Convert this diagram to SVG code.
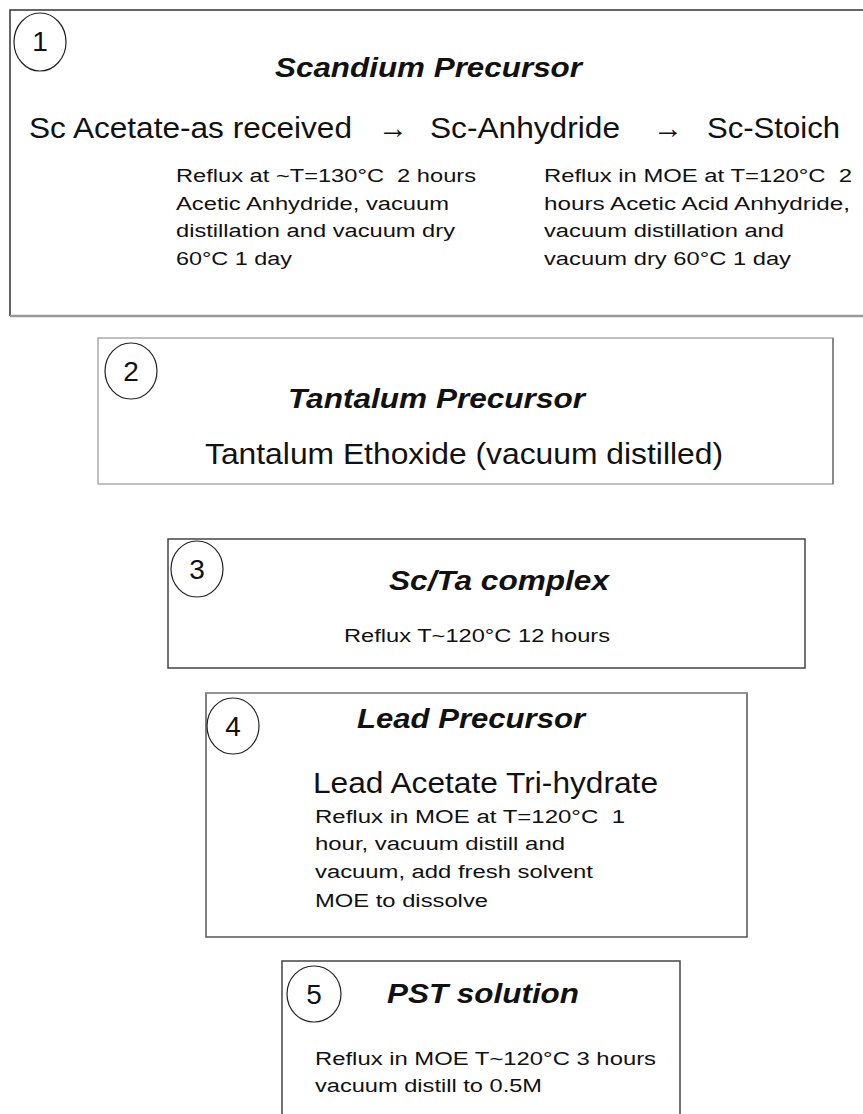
<svg xmlns="http://www.w3.org/2000/svg" width="863" height="1114" viewBox="0 0 863 1114">
<style>
.box{fill:#fff;stroke:#444;stroke-width:1.5}
.num{fill:#fff;stroke:#222;stroke-width:1.2}
.numt{font-family:"Liberation Sans",Arial,sans-serif;font-size:28px;fill:#111;text-anchor:middle}
.title{font-family:"Liberation Sans",Arial,sans-serif;font-size:27px;font-weight:bold;font-style:italic;fill:#111}
.big{font-family:"Liberation Sans",Arial,sans-serif;font-size:30px;fill:#111}
.sm{font-family:"Liberation Sans",Arial,sans-serif;font-size:18px;fill:#111}
</style>
<rect width="863" height="1114" fill="#fff"/>
<g id="node1">
<path d="M875,10 H10 V316" class="box" style="stroke:#333"/>
<path d="M10,316 H875" stroke="#999" stroke-width="2.5" fill="none"/>
<ellipse cx="40" cy="42" rx="26" ry="29" class="num"/>
<text x="40" y="51" class="numt">1</text>
<text x="275" y="77" class="title" textLength="307" lengthAdjust="spacingAndGlyphs">Scandium Precursor</text>
<text x="29" y="138" class="big" textLength="323" lengthAdjust="spacingAndGlyphs">Sc Acetate-as received</text>
<text x="378" y="138" class="big">→</text>
<text x="430" y="138" class="big" textLength="190" lengthAdjust="spacingAndGlyphs">Sc-Anhydride</text>
<text x="653" y="138" class="big">→</text>
<text x="707" y="138" class="big" textLength="133" lengthAdjust="spacingAndGlyphs">Sc-Stoich</text>
<text class="sm"><tspan x="176" y="182" textLength="300" lengthAdjust="spacingAndGlyphs">Reflux at ~T=130°C&#160;&#160;2 hours</tspan><tspan x="176" y="210" textLength="273" lengthAdjust="spacingAndGlyphs">Acetic Anhydride, vacuum</tspan><tspan x="176" y="237" textLength="279" lengthAdjust="spacingAndGlyphs">distillation and vacuum dry</tspan><tspan x="176" y="265" textLength="116" lengthAdjust="spacingAndGlyphs">60°C 1 day</tspan></text>
<text class="sm"><tspan x="544" y="182" textLength="308" lengthAdjust="spacingAndGlyphs">Reflux in MOE at T=120°C&#160;&#160;2</tspan><tspan x="544" y="210" textLength="306" lengthAdjust="spacingAndGlyphs">hours Acetic Acid Anhydride,</tspan><tspan x="544" y="237" textLength="240" lengthAdjust="spacingAndGlyphs">vacuum distillation and</tspan><tspan x="544" y="265" textLength="247" lengthAdjust="spacingAndGlyphs">vacuum dry 60°C 1 day</tspan></text>
</g>
<g id="node2">
<rect x="98" y="338" width="735" height="146" class="box" style="stroke:#aaa"/>
<path d="M833,338 V484" stroke="#777" stroke-width="1.5" fill="none"/>
<ellipse cx="131" cy="371" rx="26" ry="28" class="num"/>
<text x="131" y="381" class="numt">2</text>
<text x="288" y="408" class="title" textLength="297" lengthAdjust="spacingAndGlyphs">Tantalum Precursor</text>
<text x="205" y="464" class="big" textLength="518" lengthAdjust="spacingAndGlyphs">Tantalum Ethoxide (vacuum distilled)</text>
</g>
<g id="node3">
<rect x="168" y="539" width="637" height="129" class="box"/>
<ellipse cx="197" cy="569" rx="26" ry="28" class="num"/>
<text x="197" y="579" class="numt">3</text>
<text x="389" y="590" class="title" textLength="220" lengthAdjust="spacingAndGlyphs">Sc/Ta complex</text>
<text x="344" y="642" class="sm" textLength="266" lengthAdjust="spacingAndGlyphs">Reflux T~120°C 12 hours</text>
</g>
<g id="node4">
<rect x="206" y="693" width="541" height="244" class="box" style="stroke:#555"/>
<path d="M206,693 H747" stroke="#999" stroke-width="1.5" fill="none"/>
<ellipse cx="233" cy="726" rx="26" ry="28" class="num"/>
<text x="233" y="736" class="numt">4</text>
<text x="357" y="728" class="title" textLength="228" lengthAdjust="spacingAndGlyphs">Lead Precursor</text>
<text x="313" y="793" class="big" textLength="345" lengthAdjust="spacingAndGlyphs">Lead Acetate Tri-hydrate</text>
<text class="sm"><tspan x="315" y="823" textLength="310" lengthAdjust="spacingAndGlyphs">Reflux in MOE at T=120°C&#160;&#160;1</tspan><tspan x="315" y="850" textLength="250" lengthAdjust="spacingAndGlyphs">hour, vacuum distill and</tspan><tspan x="315" y="878" textLength="278" lengthAdjust="spacingAndGlyphs">vacuum, add fresh solvent</tspan><tspan x="315" y="907" textLength="173" lengthAdjust="spacingAndGlyphs">MOE to dissolve</tspan></text>
</g>
<g id="node5">
<rect x="282" y="961" width="398" height="165" class="box"/>
<ellipse cx="314" cy="994" rx="27" ry="28" class="num"/>
<text x="314" y="1004" class="numt">5</text>
<text x="387" y="1003" class="title" textLength="192" lengthAdjust="spacingAndGlyphs">PST solution</text>
<text class="sm"><tspan x="315" y="1065" textLength="341" lengthAdjust="spacingAndGlyphs">Reflux in MOE T~120°C 3 hours</tspan><tspan x="315" y="1092" textLength="227" lengthAdjust="spacingAndGlyphs">vacuum distill to 0.5M</tspan></text>
</g>
<g id="connectors"></g>
</svg>
